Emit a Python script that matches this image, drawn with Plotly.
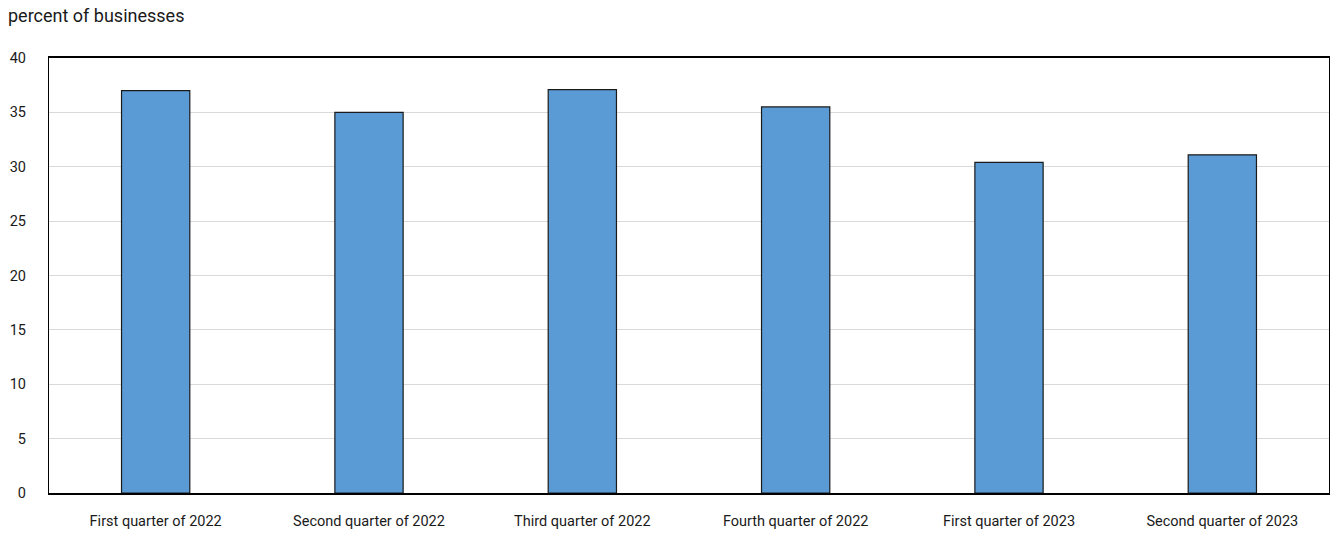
import plotly.graph_objects as go

# Share of businesses by quarter
quarters = [
    "First quarter of 2022",
    "Second quarter of 2022",
    "Third quarter of 2022",
    "Fourth quarter of 2022",
    "First quarter of 2023",
    "Second quarter of 2023",
]
percent_of_businesses = [37.0, 35.0, 37.1, 35.5, 30.4, 31.1]
y_ticks = [0, 5, 10, 15, 20, 25, 30, 35, 40]

tick_font = dict(family="Roboto, Liberation Sans, sans-serif", size=14.5, color="#1a1a1a")

fig = go.Figure(
    go.Bar(
        x=quarters,
        y=percent_of_businesses,
        marker=dict(color="#5B9BD5", line=dict(color="#1a1a1a", width=1.2)),
        width=0.32,
    )
)

fig.update_layout(
    width=1330,
    height=538,
    margin=dict(l=49, r=1, t=58, b=45),
    paper_bgcolor="white",
    plot_bgcolor="white",
    showlegend=False,
    font=tick_font,
    annotations=[
        dict(
            text="percent of businesses",
            xref="paper", yref="paper",
            x=-43 / 1280, y=1 + 43 / 435,
            xanchor="left", yanchor="middle",
            showarrow=False,
            font=dict(family="Roboto, Liberation Sans, sans-serif", size=18, color="#1a1a1a"),
        )
    ],
)

fig.update_xaxes(
    showgrid=False,
    showline=True,
    linecolor="black",
    linewidth=1.5,
    mirror=True,
    ticks="",
    tickfont=tick_font,
    ticklabelstandoff=14,
)

fig.update_yaxes(
    range=[0, 40],
    tickvals=y_ticks,
    showgrid=True,
    gridcolor="#d9d9d9",
    gridwidth=1,
    zeroline=False,
    showline=True,
    linecolor="black",
    linewidth=1.2,
    mirror=True,
    ticks="",
    tickfont=tick_font,
    ticklabelstandoff=19,
)

fig.write_html("out.html")
